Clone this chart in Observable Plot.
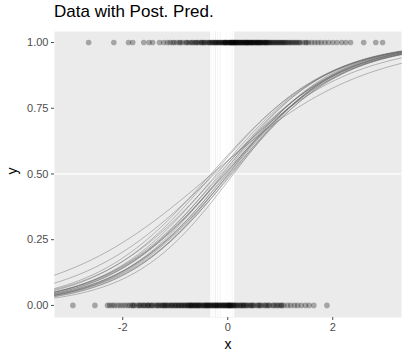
<!DOCTYPE html>
<html>
<head>
<meta charset="utf-8">
<script src="https://cdn.jsdelivr.net/npm/d3@7"></script>
<script src="https://cdn.jsdelivr.net/npm/@observablehq/plot@0.6"></script>
<style>
  html, body { margin: 0; padding: 0; background: #fff; }
  #wrap { position: relative; width: 408px; height: 360px; font-family: "Liberation Sans", Arial, sans-serif; }
  #title { position: absolute; left: 54px; top: 2px; font-size: 17px; color: #000; white-space: nowrap; }
  #chart { position: absolute; left: 0; top: 0; }
</style>
</head>
<body>
<div id="wrap">
  <div id="chart"></div>
  <div id="title">Data with Post. Pred.</div>
</div>
<script>
// Observed data: x positions of outcomes y = 1 and y = 0
const xOnes = [-2.65,-2.17,-1.89,-1.81,-1.60,-1.50,-1.43,-1.30,-1.22,-1.15,-1.10,-1.02,-0.97,-0.90,-0.86,-0.80,-0.75,-0.71,-0.66,-0.62,-0.58,-0.55,-0.51,-0.48,-0.44,-0.41,-0.38,-0.35,-0.32,-0.29,-0.26,-0.23,-0.20,-0.18,-0.15,-0.13,-0.10,-0.08,-0.05,-0.03,-0.01,0.02,0.04,0.06,0.09,0.11,0.13,0.16,0.18,0.21,0.23,0.25,0.28,0.30,0.33,0.35,0.38,0.40,0.43,0.46,0.48,0.51,0.54,0.57,0.60,0.63,0.66,0.69,0.72,0.75,0.79,0.82,0.86,0.90,0.94,0.98,1.02,1.06,1.08,1.12,1.17,1.22,1.28,1.33,1.38,1.43,1.48,1.54,1.60,1.66,1.72,1.78,1.85,1.92,2.00,2.08,2.17,2.25,2.34,2.59,2.82,2.95,
  -0.60,-0.45,-0.30,-0.22,-0.12,-0.04,0.03,0.08,0.14,0.19,0.24,0.31,0.36,0.41,0.47,0.52,0.58,0.64,0.70,0.77,0.84,0.92,1.00,-0.05,0.10,0.27,0.44,0.61,
  -0.50,-0.35,-0.17,-0.07,0.00,0.05,0.12,0.17,0.22,0.29,0.34,0.39,0.45,0.50,0.55,0.62,0.68,0.73,0.80,0.88,0.96,1.10,1.20,1.30,-0.25,0.15,0.37,0.56,0.74,0.07,
  -1.05,-0.92,-0.78,-0.68,1.04,1.15,1.25,1.36,1.50];
const xZeros = [-2.95,-2.53,-2.29,-2.25,-2.20,-2.16,-2.10,-2.05,-2.00,-1.95,-1.90,-1.86,-1.82,-1.78,-1.73,-1.69,-1.65,-1.61,-1.57,-1.53,-1.50,-1.46,-1.42,-1.38,-1.35,-1.31,-1.28,-1.24,-1.21,-1.18,-1.14,-1.11,-1.08,-1.05,-1.02,-0.99,-0.96,-0.93,-0.90,-0.87,-0.84,-0.81,-0.78,-0.75,-0.72,-0.69,-0.66,-0.63,-0.60,-0.57,-0.54,-0.51,-0.48,-0.45,-0.42,-0.39,-0.36,-0.33,-0.30,-0.27,-0.24,-0.21,-0.18,-0.15,-0.12,-0.09,-0.06,-0.03,0.00,0.03,0.06,0.09,0.12,0.15,0.19,0.22,0.26,0.30,0.34,0.38,0.42,0.46,0.50,0.55,0.60,0.65,0.70,0.75,0.80,0.86,0.92,0.98,1.03,1.07,1.14,1.20,1.27,1.33,1.40,1.48,1.55,1.64,1.89,
  -1.25,-1.00,-0.88,-0.76,-0.64,-0.52,-0.40,-0.32,-0.25,-0.17,-0.10,-0.02,0.05,0.11,-0.70,-0.46,-0.20,0.01,-0.58,-0.35,
  -1.45,-1.15,-0.94,-0.82,-0.68,-0.55,-0.43,-0.28,-0.14,-0.05,0.02,0.08,0.14,0.24,0.36,0.48,0.62,0.78,0.95,-0.73,-0.38,-0.22,-0.08,0.18,-1.60,-0.61,0.04,0.31,
  -1.80,-1.68,-1.52,-1.33,-1.20,-1.07,0.28,0.44,0.58,0.72,0.88,1.02];

// Posterior samples: threshold (x where p = 0.5) and slope
const thresholds = [-0.30,-0.25,-0.32,-0.28,-0.21,-0.18,-0.15,-0.12,-0.10,-0.08,-0.06,-0.03,-0.01,0.01,0.04,0.06,0.08,0.11,-0.05,0.02];
const slopes     = [0.68,0.78,0.90,0.93,0.95,0.88,0.97,0.92,1.00,0.94,0.90,0.98,0.95,1.02,0.93,0.99,0.96,1.04,0.91,0.97];

const xDomain = [-3.30, 3.31];
const yTicks = [0, 0.25, 0.5, 0.75, 1];
const xTicks = [-2, 0, 2];

const points = [
  ...xOnes.map(x => ({x, y: 1})),
  ...xZeros.map(x => ({x, y: 0}))
];
const grid = d3.range(0, 201).map(i => xDomain[0] + (xDomain[1] - xDomain[0]) * i / 200);
const curves = [];
thresholds.forEach((t, k) => {
  const b = slopes[k];
  grid.forEach(x => curves.push({k, x, y: 1 / (1 + Math.exp(-b * (x - t)))}));
});

const chart = Plot.plot({
  width: 408,
  height: 360,
  marginTop: 31,
  marginBottom: 43,
  marginLeft: 54,
  marginRight: 7,
  style: {fontFamily: "Liberation Sans, Arial, sans-serif", fontSize: "11px", background: "transparent"},
  x: {domain: xDomain, ticks: xTicks, label: "x"},
  y: {domain: [-0.046, 1.042], ticks: yTicks, label: "y"},
  marks: [
    Plot.frame({fill: "#EBEBEB", stroke: null}),
    Plot.ruleY([0.5], {stroke: "white", strokeWidth: 1.2}),
    Plot.ruleX(thresholds, {stroke: "white", strokeWidth: 1.3}),
    Plot.line(curves, {x: "x", y: "y", z: "k", stroke: "#666", strokeOpacity: 0.6, strokeWidth: 0.75}),
    Plot.dot(points, {x: "x", y: "y", r: 2.8, fill: "black", fillOpacity: 0.3, stroke: null}),
    Plot.axisX({ticks: xTicks, tickSize: 3, tickPadding: 3, color: "#4d4d4d", tickFormat: d => d < 0 ? "-" + Math.abs(d) : String(d), label: null}),
    Plot.axisY({ticks: yTicks, tickSize: 3, tickPadding: 3, color: "#4d4d4d", tickFormat: d3.format(".2f"), label: null}),
    Plot.text(["x"], {frameAnchor: "bottom", dy: 31, fontSize: 14, fill: "black"}),
    Plot.text(["y"], {frameAnchor: "left", dx: -42, rotate: -90, fontSize: 14, fill: "black"})
  ]
});
document.getElementById("chart").appendChild(chart);
</script>
</body>
</html>
